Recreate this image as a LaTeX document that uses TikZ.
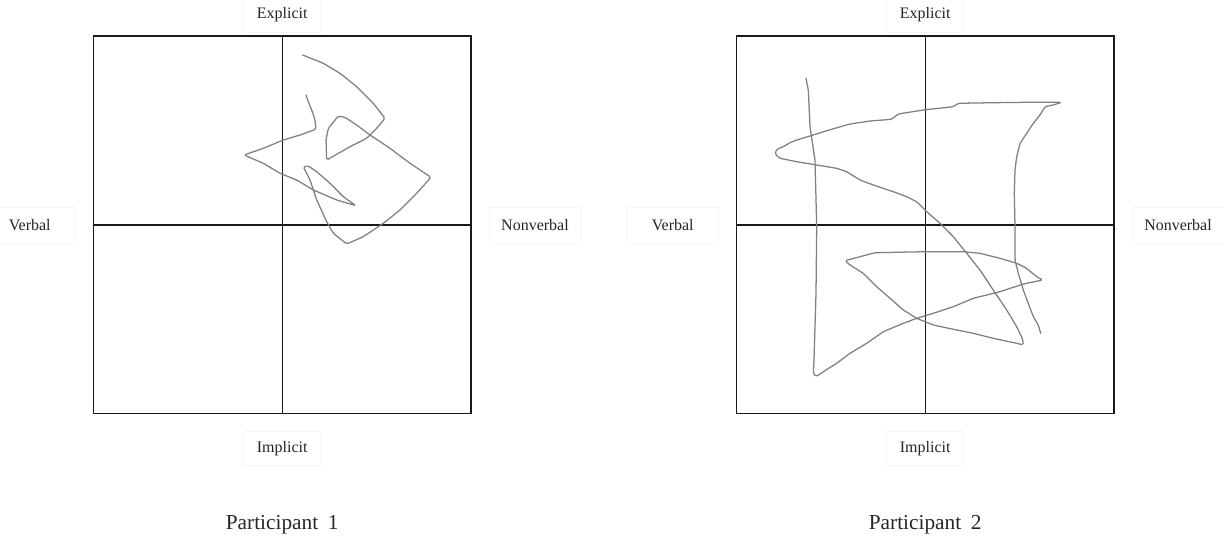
\documentclass[tikz,border=0pt]{standalone}
\usepackage{fontspec}
\setmainfont{Liberation Serif}
\usetikzlibrary{positioning}

\begin{document}
\begin{tikzpicture}[
  x=0.75pt, y=-0.75pt,
  every node/.style={font=\fontsize{12}{14}\selectfont, text=black!85},
  frame/.style   = {draw=black!90, line width=1pt, inner sep=0pt, minimum width=283.3pt, minimum height=283.3pt},
  axis/.style    = {draw=black!90, line width=1pt},
  lbl/.style     = {draw=black!4, fill=white, inner sep=0pt, minimum height=27pt},
  lblv/.style    = {lbl, minimum width=69pt},
  lblh/.style    = {lbl, minimum width=57.75pt, minimum height=25.5pt},
  trace/.style   = {draw=black!50, line width=0.95pt, line join=round, line cap=round, rounded corners=1.2pt},
  caption/.style = {font=\fontsize{16}{19}\selectfont},
]
  \useasboundingbox (0,0) rectangle (1224,543);
  \foreach \p/\dx in {1/0,2/643}{
    \begin{scope}[shift={(\dx,0)}]
      \node[frame] (sq\p) at (282.2,224.85) {};
      \draw[axis] (sq\p.north) -- (sq\p.south);
      \draw[axis] (sq\p.west) -- (sq\p.east);
      \node[lblh, above=2.25pt of sq\p]  (ex\p) {Explicit};
      \node[lblh, below=12.75pt of sq\p] (im\p) {Implicit};
      \node[lblv, left=12.5pt of sq\p]   (vb\p) {Verbal};
      \node[lblv, right=12.75pt of sq\p] (nv\p) {Nonverbal};
      \node[caption] (cap\p) at (282.2,525) {Participant\hspace{0.45em}\p};
    \end{scope}
  }
  % participant 1
  \draw[trace] (302.7,55) -- (323.3,63.3) -- (340,73.3) -- (356.7,86.7) -- (373.3,103.3) -- (385,118.3)
    -- (376.7,128.3) -- (366.7,138.3) -- (350,146.7) -- (326.7,160) -- (326,140) -- (328.3,128.3)
    -- (338.3,116) -- (345,117.3) -- (356.7,125) -- (370,135) -- (390,148.3) -- (410,163.3) -- (431,177.3)
    -- (416.7,193.3) -- (400,210) -- (383.3,223.3) -- (363.3,236.7) -- (346.7,244) -- (333.3,233.3)
    -- (326.7,221.7) -- (316.7,200) -- (310,180) -- (303.3,166.7) -- (308.3,166) -- (316.7,171.7)
    -- (330,183.3) -- (343.3,196.7) -- (356,205.7) -- (336.7,200) -- (313.3,190) -- (296.7,180)
    -- (280,173.3) -- (263.3,163.3) -- (244,155) -- (263.3,148.3) -- (283.3,140) -- (300,135)
    -- (316,129.3) -- (315,120) -- (311.7,110) -- (308.3,101.7) -- (306,95);
  % participant 2
  \draw[trace] (806,78.3) -- (808.3,90) -- (810,126.7) -- (815,160) -- (816.7,226.7) -- (816,293.3)
    -- (814,360) -- (813.3,373.3) -- (816,376.7) -- (823.3,371.7) -- (836.7,363.3) -- (850,353.3)
    -- (866.7,343.3) -- (883.3,331.7) -- (903.3,323.3) -- (916.7,318.3) -- (933.3,313.3) -- (953.3,306.7)
    -- (973.3,298.3) -- (1000,291.7) -- (1023.3,284) -- (1042.7,280) -- (1036.7,276.7) -- (1031.7,272.7)
    -- (1026.7,268.3) -- (1016.7,263.3) -- (1000,258.3) -- (980,253.3) -- (963.3,251.7) -- (926.7,251.7)
    -- (875,252.7) -- (845,260.7) -- (850,265) -- (863.3,273.3) -- (876.7,286.7) -- (890,298.3)
    -- (903.3,310) -- (916.7,318.3) -- (933.3,325) -- (953.3,329.3) -- (973.3,333.3) -- (993.3,338.3)
    -- (1016.7,343.3) -- (1023.3,345) -- (1022.7,339.3) -- (1016.7,326.7) -- (1006.7,310) -- (993.3,290)
    -- (980,270) -- (966.7,253.3) -- (953.3,236.7) -- (940,223.3) -- (926.7,211.7) -- (916.7,201.7)
    -- (906.7,196.7) -- (893.3,191.7) -- (873.3,185) -- (860,180) -- (846.7,171.7) -- (836.7,168.3)
    -- (816.7,165) -- (796.7,161.7) -- (780,158.3) -- (775,154) -- (776.7,149.3) -- (783.3,146.7)
    -- (790,142.7) -- (796.7,140) -- (810,136) -- (826.7,130.7) -- (850,124) -- (870,121) -- (891.7,119.3)
    -- (898.3,114) -- (923.3,110) -- (953.3,106.7) -- (958.3,103.3) -- (993.3,102.7) -- (1026.7,102.3)
    -- (1061.7,102.3) -- (1053.3,105) -- (1045,106.7) -- (1040,115) -- (1033.3,123.3) -- (1026.7,133.3)
    -- (1020,143.3) -- (1016.7,156.7) -- (1015,170) -- (1014.3,193.3) -- (1015,226.7) -- (1015,260)
    -- (1018.3,273.3) -- (1023.3,290) -- (1028.3,303.3) -- (1033.3,316.7) -- (1038.3,325) -- (1040.7,333.3);
\end{tikzpicture}
\end{document}
